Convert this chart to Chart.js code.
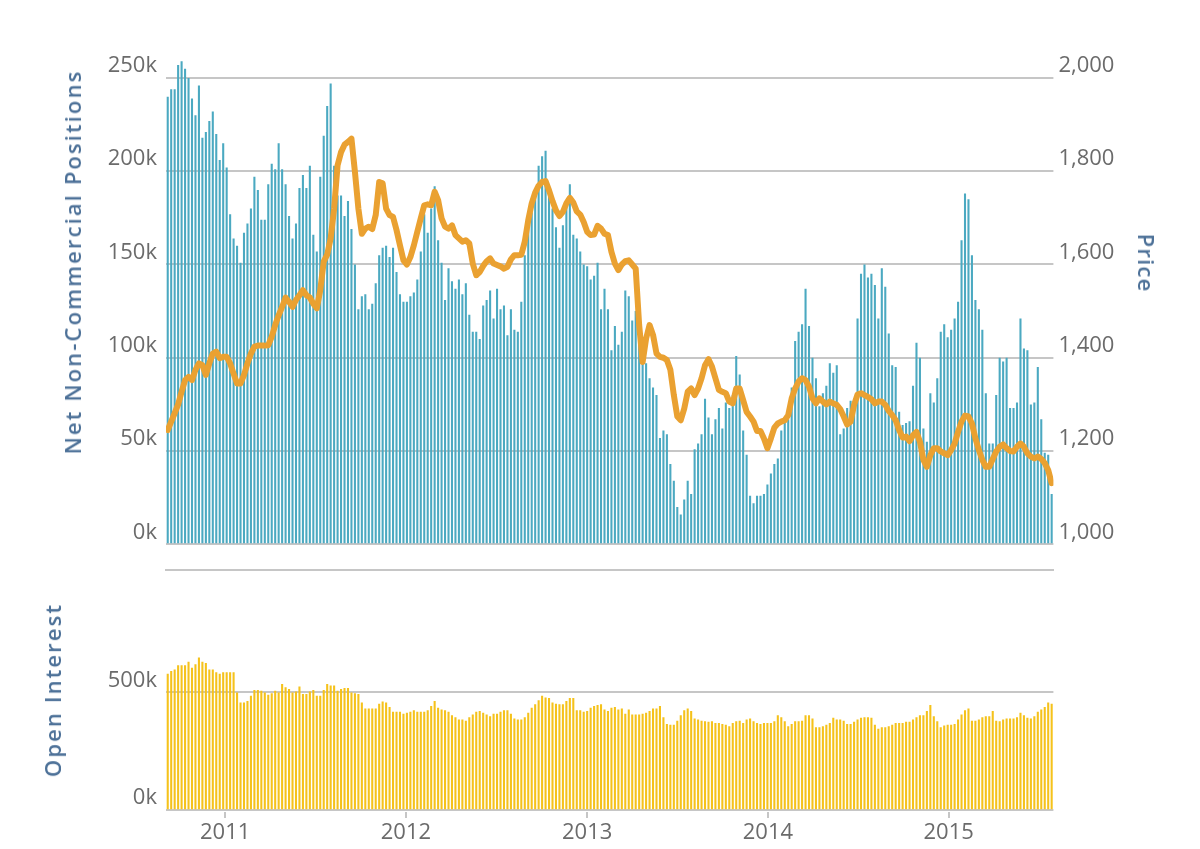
<!DOCTYPE html>
<html><head><meta charset="utf-8">
<script src="https://cdn.jsdelivr.net/npm/chart.js@4.4.1/dist/chart.umd.min.js"></script>
<style>
html,body{margin:0;padding:0;background:#fff;}
#wrap{position:relative;width:1200px;height:849px;overflow:hidden;background:#fff;}
#wrap canvas{position:absolute;left:0;}
.ttl{position:absolute;font-family:'Open Sans',sans-serif;font-weight:600;font-size:22px;letter-spacing:2.1px;color:#4d7198;white-space:nowrap;transform:translate(-50%,-50%) rotate(-90deg);}
#t2{transform:translate(-50%,-50%) rotate(90deg);letter-spacing:1.2px;}
</style></head><body>
<div id="wrap">
<canvas id="topChart" width="1200" height="575" style="top:0;width:1200px;height:575px"></canvas>
<canvas id="botChart" width="1200" height="249" style="top:600px;width:1200px;height:249px"></canvas>
<div class="ttl" id="t1" style="left:72px;top:262px">Net Non-Commercial Positions</div>
<div class="ttl" id="t2" style="left:1147px;top:263px">Price</div>
<div class="ttl" id="t3" style="left:52px;top:690px">Open Interest</div>
</div>
<script>
// ---- data (weekly, first week starting 2010-09-07) ----
const firstWeek = '2010-09-07';
const netPositionsK = [
240,244,244,257,259,255,250,239,230,246,218,221,227,232,220,206,215,202,177,164,
160,151,167,172,180,197,190,174,174,193,204,201,215,201,193,176,164,172,191,198,191,203,
166,157,197,219,235,247,203,187,187,176,184,169,150,126,133,134,126,129,140,155,
159,160,154,159,146,134,130,130,133,135,142,157,177,167,180,192,163,151,131,148,141,137,
142,134,140,123,114,114,110,128,131,136,121,137,126,128,112,126,115,114,130,155,
169,178,187,203,208,211,189,180,170,159,171,184,193,166,164,157,150,149,142,144,151,126,137,
126,104,117,107,114,136,133,120,125,128,97,97,89,84,80,57,61,59,43,34,
20,16,24,34,27,51,54,59,78,68,59,67,73,62,76,73,80,101,91,61,48,26,
22,26,26,27,32,38,43,46,61,65,67,84,109,114,118,137,117,100,89,74,
81,85,97,92,96,59,62,73,77,78,121,145,150,143,145,139,121,148,138,113,96,95,71,
64,65,66,85,108,100,62,55,81,76,89,114,118,111,115,121,130,163,188,185,
155,131,126,115,81,54,54,80,100,98,100,73,73,76,121,105,104,75,76,95,67,49,48,27
];
const goldPrice = [
1245,1263,1281,1300,1327,1352,1359,1352,1374,1388,1384,1363,1388,1409,1413,1399,1402,1402,1388,1366,
1345,1345,1363,1388,1409,1424,1426,1426,1426,1427,1445,1470,1491,1509,1529,1520,1509,1524,1534,1545,1534,1529,
1516,1506,1545,1606,1621,1656,1720,1813,1841,1857,1863,1870,1799,1720,1666,1677,1681,1676,1706,1777,
1774,1720,1706,1702,1674,1641,1609,1600,1616,1641,1670,1699,1727,1729,1727,1756,1738,1699,1681,1677,1684,1663,
1656,1649,1652,1645,1602,1577,1584,1597,1607,1613,1602,1599,1596,1591,1595,1611,1620,1620,1621,1649,
1695,1731,1754,1769,1777,1779,1759,1736,1716,1704,1713,1731,1743,1733,1714,1707,1691,1670,1663,1664,1683,1677,1666,
1663,1627,1602,1588,1600,1607,1609,1600,1591,1470,1391,1441,1470,1449,1409,1402,1400,1395,1374,1320,
1274,1266,1291,1327,1334,1320,1334,1356,1384,1397,1381,1356,1331,1327,1324,1306,1302,1334,1334,1309,1284,1274,
1263,1243,1243,1227,1206,1227,1250,1259,1263,1266,1277,1313,1334,1349,1356,1352,1338,1313,1302,1313,
1306,1300,1306,1302,1299,1290,1274,1257,1263,1299,1321,1324,1320,1316,1311,1302,1306,1306,1299,1286,1277,1266,1245,
1229,1231,1221,1234,1241,1220,1181,1166,1191,1206,1206,1199,1195,1191,1202,1216,1241,1263,1276,1274,
1259,1227,1202,1181,1166,1166,1183,1199,1209,1214,1206,1200,1199,1209,1216,1209,1195,1188,1184,1188,1183,1174,1159,1131
];
const openInterestK = [
579,591,597,615,615,615,630,605,620,648,630,625,597,597,586,579,586,586,586,586,
500,457,457,464,486,510,510,507,500,490,496,507,500,536,522,514,500,504,525,493,
493,504,510,486,486,510,536,529,529,507,514,519,519,500,496,493,457,432,432,432,
432,452,461,457,438,418,418,418,409,414,418,424,418,418,418,424,442,464,435,428,
424,418,403,395,385,385,380,395,406,418,421,414,406,399,409,409,418,424,424,409,
389,385,385,395,414,435,450,467,486,478,476,457,452,450,450,464,476,476,424,424,
418,421,435,442,447,
450,428,421,435,438,428,432,409,428,406,406,406,409,414,421,432,432,442,395,366,
363,363,380,403,424,432,421,389,385,380,378,375,378,370,370,366,363,356,370,378,
380,370,385,389,378,370,366,370,370,370,378,403,395,378,356,366,378,378,380,403,
403,389,352,352,356,363,370,392,385,385,380,366,366,375,385,392,395,395,392,363,
346,352,352,356,363,370,370,370,375,375,385,395,403,403,421,447,399,378,352,360,
363,363,366,385,406,424,432,380,380,385,395,399,399,421,380,378,385,389,389,389,
395,414,403,392,389,399,418,428,438,457,452
];
const positionTicksK = [0,50,100,150,200,250];
const priceTicks = [1000,1200,1400,1600,1800,2000];
const openInterestTicksK = [0,500];
const yearTicks = [2011,2012,2013,2014,2015];

// ---- build ----
const WEEK = 7*864e5;
const t0 = Date.parse(firstWeek+'T00:00:00Z');
const weekTimes = netPositionsK.map((_,i)=>t0+i*WEEK);
const xMin = weekTimes[0]-WEEK/2, xMax = weekTimes[weekTimes.length-1]+WEEK/2;

const TEAL='#4ba9c1', ORANGE='#eaa131', YELLOW='#f5c21b';
const GRID='#c6c6c6', TICK='#6b6b6b';
const FONT={family:"'Open Sans', sans-serif", size:22};
const noPad = s=>{s.paddingTop=0;s.paddingBottom=0;};

const common = {
  responsive:false, animation:false, devicePixelRatio:1,
  plugins:{legend:{display:false}, tooltip:{enabled:false}},
};

new Chart(document.getElementById('topChart'), {
  data:{datasets:[
    {type:'line', label:'Price', yAxisID:'yPrice', order:0,
     data:weekTimes.map((t,i)=>({x:t,y:goldPrice[i]})),
     borderColor:ORANGE, borderWidth:6, pointRadius:0, tension:0, borderJoinStyle:'round', borderCapStyle:'round'},
    {type:'bar', label:'Net Non-Commercial Positions', yAxisID:'y', order:1,
     data:weekTimes.map((t,i)=>({x:t,y:netPositionsK[i]*1000})),
     backgroundColor:TEAL, barPercentage:0.6, categoryPercentage:1}
  ]},
  options:{...common,
    layout:{padding:{top:50,bottom:5,left:0,right:0}},
    scales:{
      x:{type:'linear', min:xMin, max:xMax, offset:false,
         ticks:{display:false}, grid:{display:false,drawTicks:false,offset:false},
         border:{display:true,color:GRID,width:2},
         afterFit:s=>{s.height=0;}},
      y:{position:'left', min:-13800, max:265000,
         afterBuildTicks:s=>{s.ticks=positionTicksK.map(v=>({value:v*1000}));},
         ticks:{callback:v=>(v/1000)+'k', font:FONT, color:TICK, padding:9, labelOffset:-12},
         grid:{color:GRID,lineWidth:2,drawTicks:false}, border:{display:false},
         afterFit:s=>{s.width=166;noPad(s);}},
      yPrice:{position:'right', min:944.8, max:2060,
         afterBuildTicks:s=>{s.ticks=priceTicks.map(v=>({value:v}));},
         ticks:{callback:v=>v.toLocaleString('en-US'), font:FONT, color:TICK, padding:5, labelOffset:-12},
         grid:{display:false,drawTicks:false}, border:{display:false},
         afterFit:s=>{s.width=146.6;noPad(s);}}
    }
  }
});

new Chart(document.getElementById('botChart'), {
  data:{datasets:[
    {type:'bar', label:'Open Interest', yAxisID:'y',
     data:weekTimes.map((t,i)=>({x:t,y:openInterestK[i]*1000})),
     backgroundColor:YELLOW, barPercentage:0.6, categoryPercentage:1}
  ]},
  options:{...common,
    layout:{padding:{top:50,bottom:0,left:0,right:0}},
    scales:{
      x:{type:'linear', min:xMin, max:xMax, offset:false,
         afterBuildTicks:s=>{s.ticks=yearTicks.map(y=>({value:Date.UTC(y,0,1)}));},
         ticks:{callback:v=>String(new Date(v).getUTCFullYear()), font:FONT, color:TICK, padding:2, maxRotation:0, autoSkip:false},
         grid:{drawOnChartArea:false, drawTicks:true, tickLength:6, color:GRID, lineWidth:2, offset:false},
         border:{display:false},
         afterFit:s=>{s.height=37;}},
      y:{position:'left', min:-7500, max:680000,
         afterBuildTicks:s=>{s.ticks=openInterestTicksK.map(v=>({value:v*1000}));},
         ticks:{callback:v=>(v/1000)+'k', font:FONT, color:TICK, padding:9, labelOffset:-12},
         grid:{color:GRID,lineWidth:2,drawTicks:false}, border:{display:false},
         afterFit:s=>{s.width=166;noPad(s);}},
      yR:{position:'right', display:true, ticks:{display:false}, grid:{display:false}, border:{display:false},
         afterFit:s=>{s.width=146.6;noPad(s);}}
    }
  }
});
</script>
</body></html>
